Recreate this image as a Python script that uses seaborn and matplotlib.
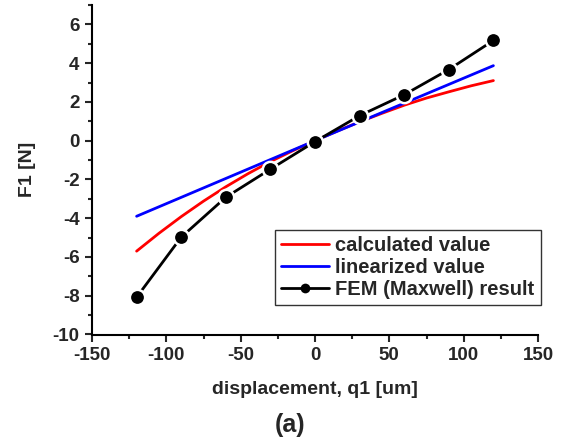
import matplotlib
matplotlib.use("Agg")
import matplotlib.pyplot as plt
import seaborn as sns
import pandas as pd
from matplotlib.ticker import MultipleLocator

# Data
calc_x = [-120, -105, -90, -75, -60, -45, -30, -15, 0, 15, 30, 45, 60, 75, 90, 105, 120]
calc_y = [-5.7, -4.78, -3.92, -3.12, -2.38, -1.70, -1.08, -0.52, 0.0, 0.50, 0.97, 1.41, 1.83, 2.20, 2.52, 2.83, 3.1]
lin_x = [-120, 0, 120]
lin_y = [-3.9, 0.0, 3.87]
fem_x = [-120, -90, -60, -30, 0, 30, 60, 90, 120]
fem_y = [-8.08, -4.98, -2.92, -1.47, -0.05, 1.29, 2.37, 3.67, 5.17]

sns.set_style("ticks")
plt.rcParams['font.family'] = ['Liberation Sans', 'DejaVu Sans']
plt.rcParams['font.weight'] = 'bold'
plt.rcParams['axes.unicode_minus'] = False

fig = plt.figure(figsize=(5.63, 4.48), dpi=100)
ax = fig.add_axes([92/563, 1-334.5/448, (538-92)/563, (334.5-5)/448])

df_calc = pd.DataFrame({"x": calc_x, "y": calc_y})
df_lin = pd.DataFrame({"x": lin_x, "y": lin_y})
df_fem = pd.DataFrame({"x": fem_x, "y": fem_y})

sns.lineplot(data=df_calc, x="x", y="y", ax=ax, color="#ff0000", lw=2.0,
             label="calculated value", sort=False)
sns.lineplot(data=df_lin, x="x", y="y", ax=ax, color="#0000ff", lw=2.0,
             label="linearized value", sort=False)
sns.lineplot(data=df_fem, x="x", y="y", ax=ax, color="black", lw=2.0,
             marker="o", markersize=11, markeredgecolor="white", markeredgewidth=1.8,
             markerfacecolor="black", label="FEM (Maxwell) result", sort=False)

ax.set_xlim(-150, 150)
ax.set_ylim(-10, 7)
ax.xaxis.set_major_locator(MultipleLocator(50))
ax.xaxis.set_minor_locator(MultipleLocator(25))
ax.yaxis.set_major_locator(MultipleLocator(2))
ax.yaxis.set_minor_locator(MultipleLocator(1))
ax.tick_params(which='major', direction='out', length=5, width=1.5, labelsize=13.5, pad=4)
ax.tick_params(which='minor', direction='out', length=3, width=1.5)
for lab in ax.get_xticklabels() + ax.get_yticklabels():
    lab.set_fontweight('bold')
sns.despine(ax=ax)
for s in ['left', 'bottom']:
    ax.spines[s].set_linewidth(1.5)
    ax.spines[s].set_color('black')

ax.set_xlabel("displacement, q1 [um]", fontsize=14, fontweight='bold', labelpad=12)
ax.set_ylabel("F1 [N]", fontsize=14, fontweight='bold', labelpad=12)

leg = ax.legend(loc='upper left', bbox_to_anchor=(275/563, 1-230/448),
                bbox_transform=fig.transFigure, borderaxespad=0,
                prop={'size': 14.5, 'weight': 'bold'}, frameon=True, fancybox=False,
                handlelength=2.4, handletextpad=0.3, labelspacing=0.15, borderpad=0.3)
leg.get_frame().set_edgecolor('black')
leg.get_frame().set_linewidth(1.0)
for h in leg.legend_handles:
    if h.get_marker() == 'o':
        h.set_markersize(7)
        h.set_markeredgewidth(0)

fig.text(290/563, 1-425/448, "(a)", ha='center', va='center', fontsize=18, fontweight='bold')

fig.savefig("out.png", dpi=100)
